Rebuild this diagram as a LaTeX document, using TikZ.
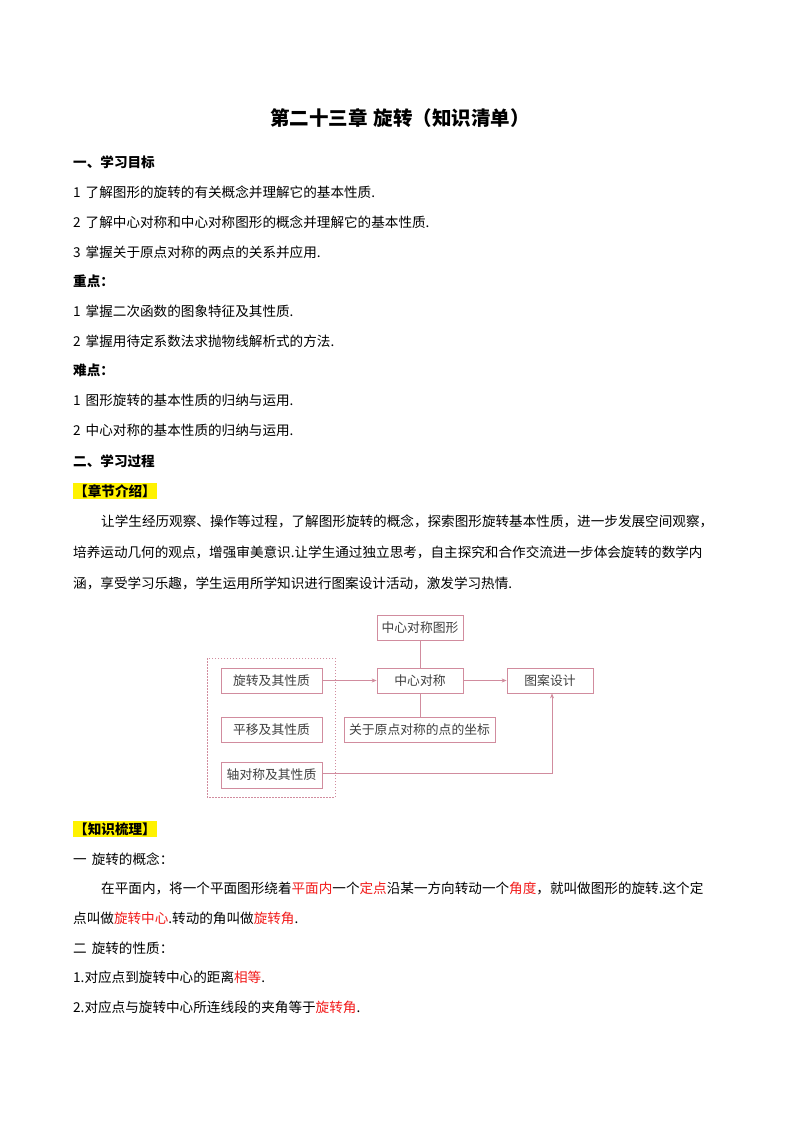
\documentclass[tikz,border=0pt]{standalone}
\usepackage{fontspec}
\setmainfont{Noto Sans CJK SC}
\usetikzlibrary{arrows.meta}
\definecolor{ln}{rgb}{0.82,0.55,0.62}
\definecolor{tx}{rgb}{0.25,0.25,0.25}
\definecolor{rd}{rgb}{0.95,0.1,0.1}
\begin{document}
\begin{tikzpicture}[x=1pt,y=-1pt,
  t/.style={anchor=west,inner sep=0pt,font=\fontsize{13.6}{14}\selectfont},
  h/.style={t,font=\fontsize{13.6}{14}\selectfont\bfseries},
  hl/.style={h,fill=yellow,inner sep=1pt},
  bx/.style={draw=ln,line width=0.8pt,inner sep=0pt,text=tx,font=\fontsize{12.8}{13}\selectfont},
  ar/.style={draw=ln,line width=0.8pt,-{Stealth[length=5pt,width=4pt]}},
  ln/.style={draw=ln,line width=0.8pt}]
\useasboundingbox[fill=white] (0,0) rectangle (800,1132);
\node[font=\fontsize{19.5}{20}\selectfont\bfseries,inner sep=0pt] (title) at (400,118) {第二十三章\hspace{6pt}旋转（知识清单）};
\node[h] (a1) at (73,162) {一、学习目标};
\node[t] (a2) at (73,192) {1\hspace{5pt}了解图形的旋转的有关概念并理解它的基本性质.};
\node[t] (a3) at (73,222) {2\hspace{5pt}了解中心对称和中心对称图形的概念并理解它的基本性质.};
\node[t] (a4) at (73,252) {3\hspace{5pt}掌握关于原点对称的两点的关系并应用.};
\node[h] (b1) at (73,281) {重点：};
\node[t] (b2) at (73,311) {1\hspace{5pt}掌握二次函数的图象特征及其性质.};
\node[t] (b3) at (73,341) {2\hspace{5pt}掌握用待定系数法求抛物线解析式的方法.};
\node[h] (c1) at (73,370) {难点：};
\node[t] (c2) at (73,400) {1\hspace{5pt}图形旋转的基本性质的归纳与运用.};
\node[t] (c3) at (73,430) {2\hspace{5pt}中心对称的基本性质的归纳与运用.};
\node[h] (d1) at (73,461) {二、学习过程};
\node[hl] (d2) at (73,491) {【章节介绍】};
\node[t] (p1) at (101,521) {让学生经历观察、操作等过程，了解图形旋转的概念，探索图形旋转基本性质，进一步发展空间观察，};
\node[t] (p2) at (73,552) {培养运动几何的观点，增强审美意识.让学生通过独立思考，自主探究和合作交流进一步体会旋转的数学内};
\node[t] (p3) at (73,583) {涵，享受学习乐趣，学生运用所学知识进行图案设计活动，激发学习热情.};
% diagram
\node[bx,minimum width=86,minimum height=25] (zx) at (420,627.5) {中心对称图形};
\node[bx,minimum width=86,minimum height=25] (zc) at (420,680.5) {中心对称};
\node[bx,minimum width=86,minimum height=25] (ta) at (550,680.5) {图案设计};
\node[bx,minimum width=151,minimum height=25] (gy) at (419.5,729.5) {关于原点对称的点的坐标};
\node[bx,minimum width=101,minimum height=25] (xz) at (271.5,680.5) {旋转及其性质};
\node[bx,minimum width=101,minimum height=25] (py) at (271.5,729.5) {平移及其性质};
\node[bx,minimum width=101,minimum height=26] (zd) at (271.5,775) {轴对称及其性质};
\draw[draw=ln,line width=0.8pt,dash pattern=on 1.5pt off 1.5pt] (207,658) rectangle (335,797);
\draw[ar] (xz) -- (zc);
\draw[ar] (zc) -- (ta);
\draw[ln] (zx) -- (zc);
\draw[ln] (zc) -- (zc|-gy.north);
\coordinate (cr) at (552,773);
\draw[ar] (zd.east|-cr) -- (cr) -- (cr|-ta.south);
% knowledge
\node[hl] (e1) at (73,829) {【知识梳理】};
\node[t] (e2) at (73,859) {一\hspace{5pt}旋转的概念：};
\node[t] (e3) at (101,888) {在平面内，将一个平面图形绕着\textcolor{rd}{平面内}一个\textcolor{rd}{定点}沿某一方向转动一个\textcolor{rd}{角度}，就叫做图形的旋转.这个定};
\node[t] (e4) at (73,918) {点叫做\textcolor{rd}{旋转中心}.转动的角叫做\textcolor{rd}{旋转角}.};
\node[t] (e5) at (73,948) {二\hspace{5pt}旋转的性质：};
\node[t] (e6) at (73,977) {1.对应点到旋转中心的距离\textcolor{rd}{相等}.};
\node[t] (e7) at (73,1007) {2.对应点与旋转中心所连线段的夹角等于\textcolor{rd}{旋转角}.};
\end{tikzpicture}
\end{document}
